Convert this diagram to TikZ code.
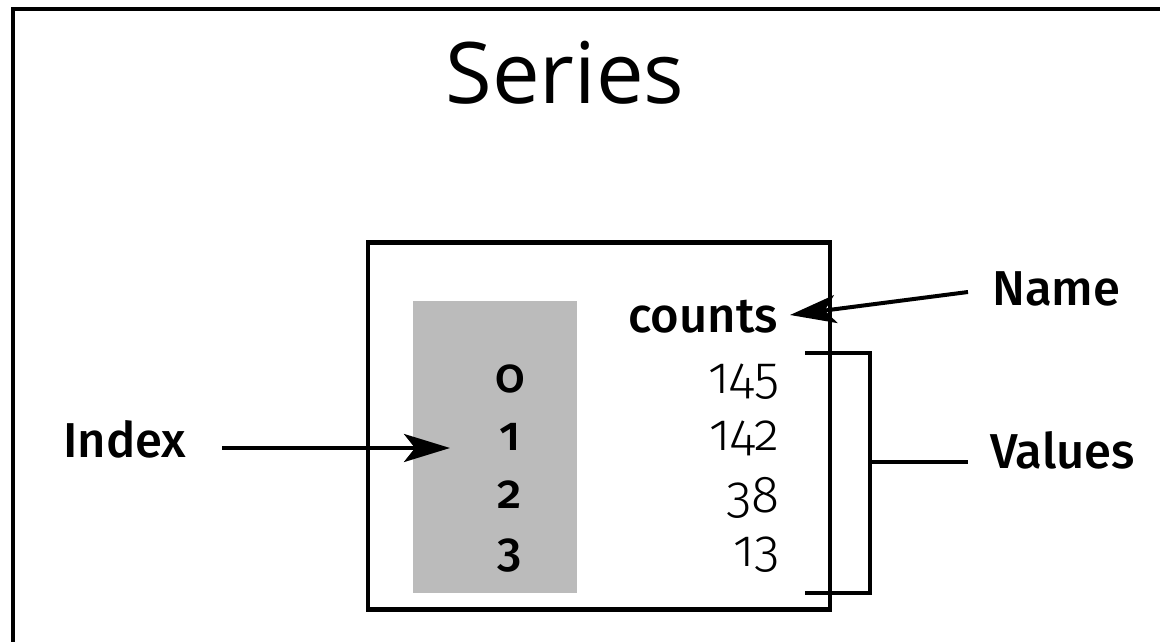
\documentclass[tikz,border=0pt]{standalone}
\usepackage{fontspec}
\setmainfont{Fira Sans}[BoldFont={* Medium}]
\newfontfamily\titlefont{Open Sans}
\newfontfamily\osfont{Fira Sans}[Numbers=OldStyle,BoldFont={* Medium}]
\newfontfamily\oslight{Fira Sans Light}[Numbers=OldStyle]
\usetikzlibrary{arrows.meta}
\definecolor{graybox}{HTML}{BBBBBB}
\tikzset{
  thick line/.style={line width=4.5pt},
  arr/.style={line width=4pt,-{Stealth[length=46pt,width=28pt,inset=11pt]}},
  lbl/.style={font=\fontsize{49}{49}\selectfont\bfseries, inner sep=0pt, anchor=base west},
  idxnum/.style={font=\fontsize{48}{48}\selectfont\osfont\bfseries, inner sep=0pt, anchor=base},
  valnum/.style={font=\fontsize{52}{52}\selectfont\oslight, inner sep=0pt, anchor=base east},
}
\begin{document}
\begin{tikzpicture}[x=1pt,y=-1pt]
\useasboundingbox (0,0) rectangle (1160,642);
\fill[white] (0,0) rectangle (1160,642);
% outer frame
\draw[thick line] (13,642) -- (13,9) -- (1160,9);
% title
\node[font=\fontsize{85}{85}\selectfont\titlefont, inner sep=0pt, anchor=base] (title) at (565,103) {Series};
% series box
\node[draw, thick line, minimum width=462pt, minimum height=367pt, inner sep=0pt] (box) at (599,426) {};
\node[fill=graybox, minimum width=164pt, minimum height=292pt, inner sep=0pt] (idxcol) at (495,447) {};
% index digits
\node[idxnum] (i0) at (510,392) {0};
\node[idxnum] (i1) at (510,450) {1};
\node[idxnum] (i2) at (510,508) {2};
\node[idxnum] (i3) at (510,566) {3};
% name and values
\node[lbl, anchor=base east] (counts) at (778,332) {counts};
\node[valnum] (v0) at (780,393) {145};
\node[valnum] (v1) at (780,450) {142};
\node[valnum] (v2) at (780,512) {38};
\node[valnum] (v3) at (780,566) {13};
% labels
\node[lbl] (name) at (992,305) {Name};
\node[lbl] (values) at (990,468) {Values};
\node[lbl] (index) at (63,457) {Index};
% connectors
\coordinate (nametail) at (968,292);
\coordinate (nametip) at (790,315);
\draw[arr] (nametail) -- (nametip);
\coordinate (idxtail) at (222,448);
\coordinate (idxtip) at (450,448);
\draw[arr] (idxtail) -- (idxtip);
% bracket
\coordinate (bt) at (805,353);
\coordinate (bb) at (805,593);
\coordinate (bm) at (870,462);
\coordinate (valtail) at (968,462);
\draw[line width=4pt] (bt) -- (870,353) -- (870,593) -- (bb);
\draw[line width=4pt] (bm) -- (valtail);
\end{tikzpicture}
\end{document}
